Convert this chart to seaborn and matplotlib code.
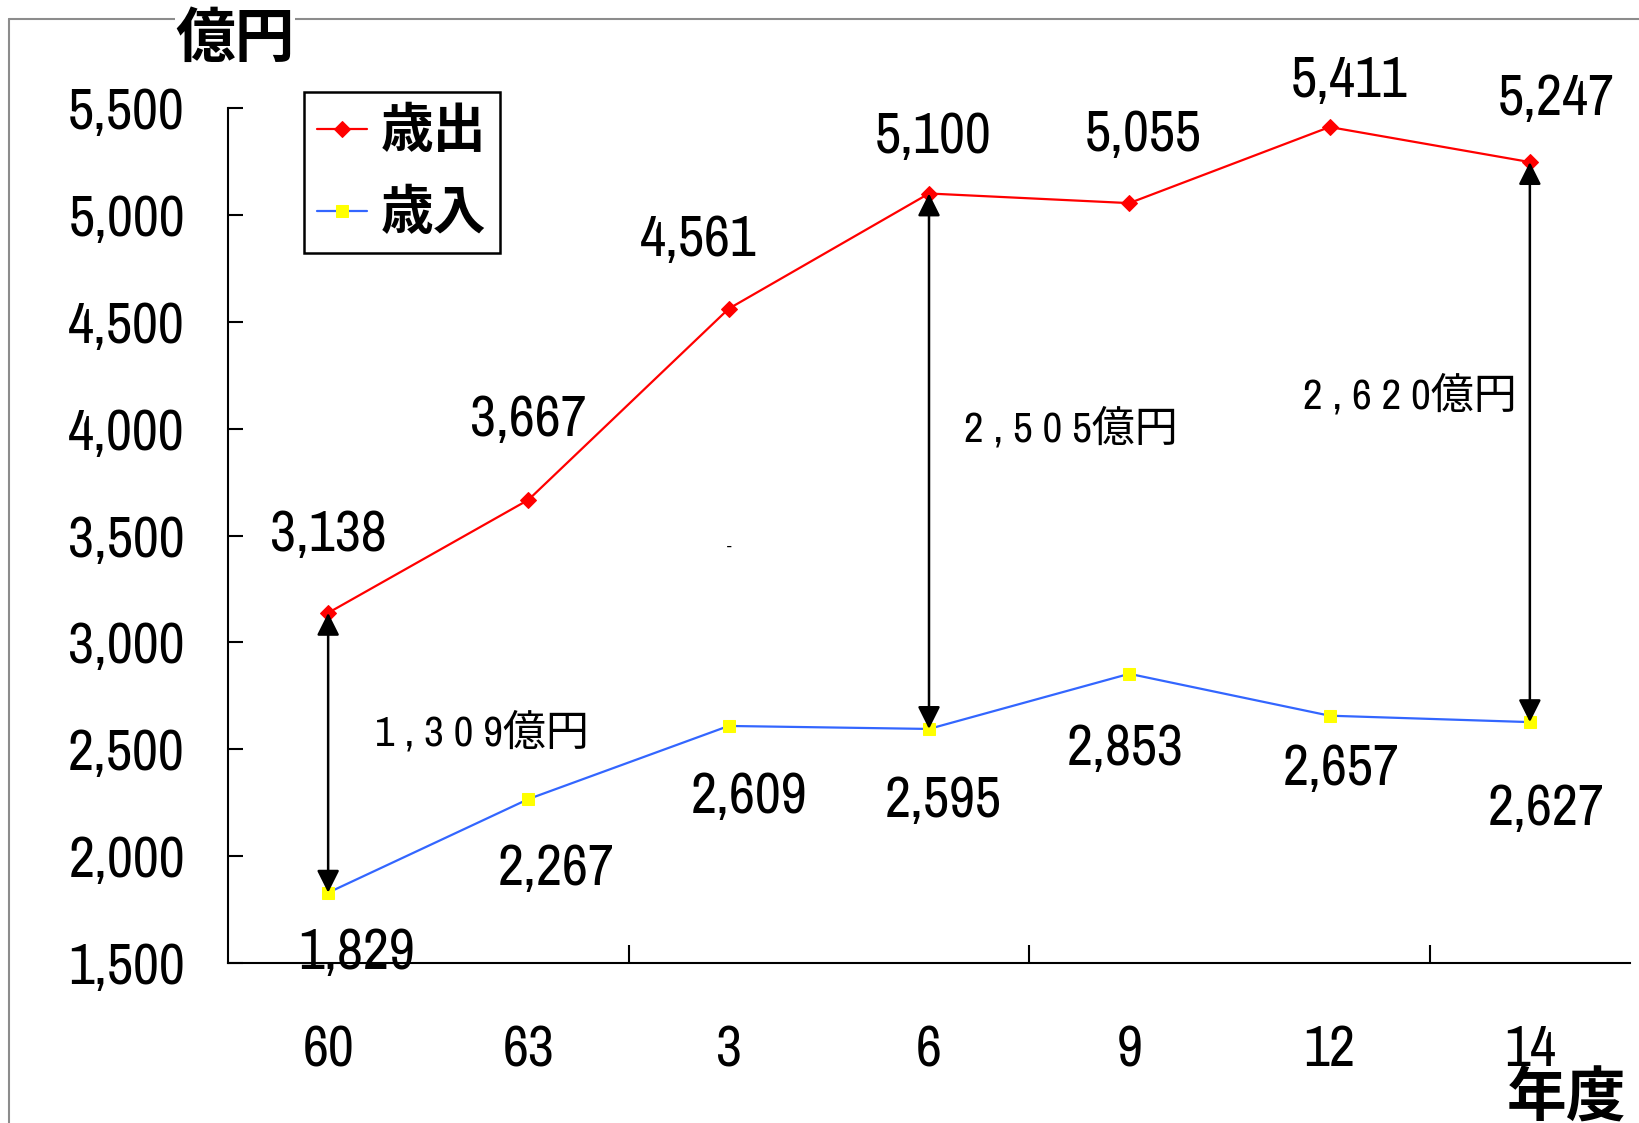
import numpy as np
import pandas as pd
import matplotlib
matplotlib.use("Agg")
import matplotlib.pyplot as plt
from matplotlib.lines import Line2D
import seaborn as sns

# 年度ごとの一般会計（億円）
years = ["60", "63", "3", "6", "9", "12", "14"]
expenditure = [3138, 3667, 4561, 5100, 5055, 5411, 5247]   # 歳出
revenue = [1829, 2267, 2609, 2595, 2853, 2657, 2627]       # 歳入
series_names = ["歳出", "歳入"]
y_ticks = [1500, 2000, 2500, 3000, 3500, 4000, 4500, 5000, 5500]
gap_index = [0, 3, 6]          # 差額の矢印を引く年度（位置）

# ラベルの配置（データ座標）
exp_label_pos = [(0.0, 3500), (1.0, 4039), (1.85, 4882), (3.02, 5363),
                 (4.07, 5373), (5.10, 5627), (6.13, 5544)]
rev_label_pos = [(0.14, 1549), (1.14, 1941), (2.10, 2275), (3.07, 2260),
                 (3.98, 2500), (5.06, 2407), (6.08, 2221)]
gap_label_pos = [(0.77, 2580), (3.71, 4002), (5.40, 4157)]

sns.set_theme(style="white")

NUM = "Archivo Narrow"
CJK = "Noto Sans CJK JP"
plt.rcParams["font.family"] = [NUM, CJK, "DejaVu Sans"]
plt.rcParams["axes.unicode_minus"] = False
plt.rcParams["text.color"] = "black"
plt.rcParams["xtick.color"] = "black"
plt.rcParams["ytick.color"] = "black"

NUM_SIZE = 41
GAP_SIZE = 31

W, H = 1640, 1123
fig = plt.figure(figsize=(W / 100, H / 100), dpi=100)
ax = fig.add_axes([228 / W, 1 - 963 / H, (1630 - 228) / W, (963 - 108) / H])

x = np.arange(len(years))
df = pd.DataFrame({"x": x, "歳出": expenditure, "歳入": revenue})

sns.lineplot(data=df, x="x", y="歳出", ax=ax, color="#ff0000", lw=1.6,
             marker="D", markersize=8, markerfacecolor="#ff0000",
             markeredgecolor="#ff0000", label=series_names[0], zorder=3)
sns.lineplot(data=df, x="x", y="歳入", ax=ax, color="#3366ff", lw=1.6,
             marker="s", markersize=8.5, markerfacecolor="#ffff00",
             markeredgecolor="#ffff00", label=series_names[1], zorder=3)

ax.set_xlim(-0.5, len(years) - 0.5)
ax.set_ylim(y_ticks[0], y_ticks[-1])
ax.set_xlabel("")
ax.set_ylabel("")

# y 軸
ax.set_yticks(y_ticks)
ax.set_yticklabels([f"{v:,}" for v in y_ticks])
ax.tick_params(axis="y", direction="in", length=11, width=1.5, pad=31,
               labelsize=NUM_SIZE, left=True, colors="black")

# x 軸：区切りの目盛りと年度ラベル
ax.set_xticks([1.5, 3.5, 5.5])
ax.set_xticklabels([])
ax.tick_params(axis="x", which="major", direction="in", length=13,
               width=1.5, bottom=True, colors="black")
ax.set_xticks(x, minor=True)
ax.set_xticklabels(years, minor=True)
ax.tick_params(axis="x", which="minor", length=0, pad=44,
               labelsize=NUM_SIZE, colors="black")

for s in ["top", "right"]:
    ax.spines[s].set_visible(False)
for s in ["left", "bottom"]:
    ax.spines[s].set_color("black")
    ax.spines[s].set_linewidth(1.5)

# 値ラベル
for (lx, ly), v in zip(exp_label_pos, expenditure):
    ax.text(lx, ly, f"{v:,}", ha="center", va="center", fontsize=NUM_SIZE)
for (lx, ly), v in zip(rev_label_pos, revenue):
    ax.text(lx, ly, f"{v:,}", ha="center", va="center", fontsize=NUM_SIZE)

# 歳出と歳入の差額
for i, (lx, ly) in zip(gap_index, gap_label_pos):
    top, bottom = expenditure[i], revenue[i]
    ax.annotate("", xy=(i, top), xytext=(i, bottom),
                arrowprops=dict(arrowstyle="<|-|>", color="black", lw=1.8,
                                mutation_scale=34, shrinkA=0, shrinkB=0),
                zorder=4)
    txt = " ".join(f"{top - bottom:,}") + "億円"
    ax.text(lx, ly, txt, ha="center", va="center", fontsize=GAP_SIZE,
            family=[NUM, CJK])

ax.text(2.0, 3450, "-", ha="center", va="center", fontsize=12)

# 凡例
handles, labels = ax.get_legend_handles_labels()
leg = ax.legend(handles, labels, loc="upper left",
                bbox_to_anchor=(0.0542, 1.0187), borderaxespad=0,
                prop={"family": CJK, "weight": "bold", "size": 38},
                handlelength=0.95, handletextpad=0.26, borderpad=0.25,
                labelspacing=0.55, fancybox=False, framealpha=1,
                edgecolor="black")
leg.get_frame().set_linewidth(1.8)

# 単位・軸名
fig.text(235 / W, 1 - 40 / H, "億円", ha="center", va="center",
         fontsize=43, weight="bold", family=CJK, zorder=5,
         bbox=dict(facecolor="white", edgecolor="none", pad=0))
fig.text(1567 / W, 1 - 1100 / H, "年度", ha="center", va="center",
         fontsize=43, weight="bold", family=CJK)

# 外枠
fig.add_artist(Line2D([9 / W, 9 / W], [0, 1 - 19 / H], color="#8c8c8c",
                      lw=1.5, zorder=0))
fig.add_artist(Line2D([9 / W, 1], [1 - 19 / H, 1 - 19 / H], color="#8c8c8c",
                      lw=1.5, zorder=0))

fig.savefig("out.png", dpi=100, facecolor="white")
